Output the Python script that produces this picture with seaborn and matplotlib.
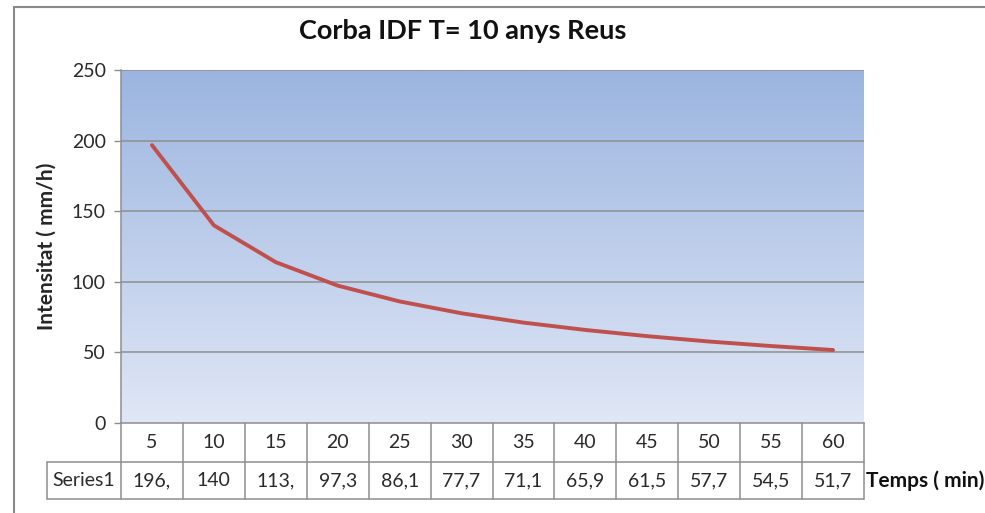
import numpy as np
import pandas as pd
import matplotlib
matplotlib.use("Agg")
import matplotlib.pyplot as plt
from matplotlib.colors import LinearSegmentedColormap
import seaborn as sns

# IDF curve, return period T = 10 years (Reus)
durations = [5, 10, 15, 20, 25, 30, 35, 40, 45, 50, 55, 60]
intensity = [196.8, 140, 113.9, 97.3, 86.1, 77.7, 71.1, 65.9, 61.5, 57.7, 54.5, 51.7]
series_name = "Series1"
y_ticks = [0, 50, 100, 150, 200, 250]

title = "Corba IDF T= 10 anys Reus"
y_label = "Intensitat ( mm/h)"
x_label = "Temps ( min)"

sns.set_theme(style="white")
plt.rcParams["font.family"] = ["Lato", "DejaVu Sans"]

W, H = 985, 513
fig = plt.figure(figsize=(W / 100, H / 100), dpi=100)

# plot area in pixel coordinates
px_left, px_right, px_top, px_bottom = 121, 864, 70, 423
ax = fig.add_axes([px_left / W, 1 - px_bottom / H,
                   (px_right - px_left) / W, (px_bottom - px_top) / H])

df = pd.DataFrame({"pos": np.arange(len(durations)), "value": intensity})
n = len(durations)

# vertical blue gradient background
grad_cmap = LinearSegmentedColormap.from_list("bg", ["#e0e7f6", "#9bb5e0"])
grad = np.linspace(0, 1, 256).reshape(-1, 1)
ax.imshow(grad, cmap=grad_cmap, origin="lower", aspect="auto",
          extent=[0, 1, 0, 1], transform=ax.transAxes, zorder=0)

grid_col = "#8e8e8e"
for t in y_ticks[1:]:
    ax.axhline(t, color=grid_col, lw=1.1, zorder=1)

sns.lineplot(data=df, x="pos", y="value", ax=ax, color="#c0504d",
             linewidth=2.8, zorder=3, solid_capstyle="round")

txt_size = 14
txt_col = "#2a2a2a"
ax.set_xlim(-0.5, n - 0.5)
ax.set_ylim(0, 250)
ax.set_yticks(y_ticks)
ax.set_yticklabels([str(t) for t in y_ticks], fontsize=txt_size, color=txt_col)
ax.set_xticks([])
ax.set_xlabel("")
ax.set_ylabel(y_label, fontsize=15, fontweight="bold", labelpad=11)
ax.tick_params(axis="y", which="both", left=True, length=5, width=1,
               color=grid_col, pad=6)
for side in ["top", "right"]:
    ax.spines[side].set_visible(False)
for side in ["left", "bottom"]:
    ax.spines[side].set_color(grid_col)
    ax.spines[side].set_linewidth(1.1)

fig.suptitle(title, x=462.5 / W, y=1 - 31 / H, va="center", fontsize=19.5,
             fontweight="bold", color="#111111")

# data table under the plot area (axes units: x = category position, y in axes fraction)
ah = px_bottom - px_top
row1_bot = -(462 - px_bottom) / ah
row2_bot = -(499 - px_bottom) / ah
cell_w = (px_right - px_left) / n
name_left = -0.5 - (px_left - 47) / cell_w

tr = ax.get_xaxis_transform()
lkw = dict(color=grid_col, lw=1.1, transform=tr, clip_on=False, zorder=2)
ax.plot([-0.5, n - 0.5], [row1_bot, row1_bot], **lkw)
ax.plot([name_left, -0.5], [row1_bot, row1_bot], **lkw)
ax.plot([name_left, n - 0.5], [row2_bot, row2_bot], **lkw)
ax.plot([name_left, name_left], [row1_bot, row2_bot], **lkw)
for k in range(n + 1):
    ax.plot([k - 0.5, k - 0.5], [0, row2_bot], **lkw)


def excel_fmt(v):
    s = ("%g" % v).replace(".", ",")
    return s[:4]


tkw = dict(transform=tr, ha="center", va="center", fontsize=txt_size,
           color=txt_col, clip_on=False)
for i, (d, v) in enumerate(zip(durations, intensity)):
    ax.text(i, row1_bot / 2, str(d), **tkw)
    ax.text(i, (row1_bot + row2_bot) / 2, excel_fmt(v), **tkw)
ax.text((name_left - 0.5) / 2, (row1_bot + row2_bot) / 2, series_name, **tkw)
ax.text(n - 0.5 + 0.04, (row1_bot + row2_bot) / 2, x_label, transform=tr,
        ha="left", va="center", fontsize=15, fontweight="bold",
        color="#111111", clip_on=False)

# outer chart frame (left and top edges)
frame_col = "#8a8a8a"
fig.add_artist(plt.Line2D([14 / W, 14 / W], [0, 1 - 7 / H], color=frame_col,
                          lw=1.5, transform=fig.transFigure))
fig.add_artist(plt.Line2D([14 / W, 1], [1 - 7 / H, 1 - 7 / H], color=frame_col,
                          lw=1.5, transform=fig.transFigure))

fig.savefig("out.png", dpi=100, facecolor="white")
